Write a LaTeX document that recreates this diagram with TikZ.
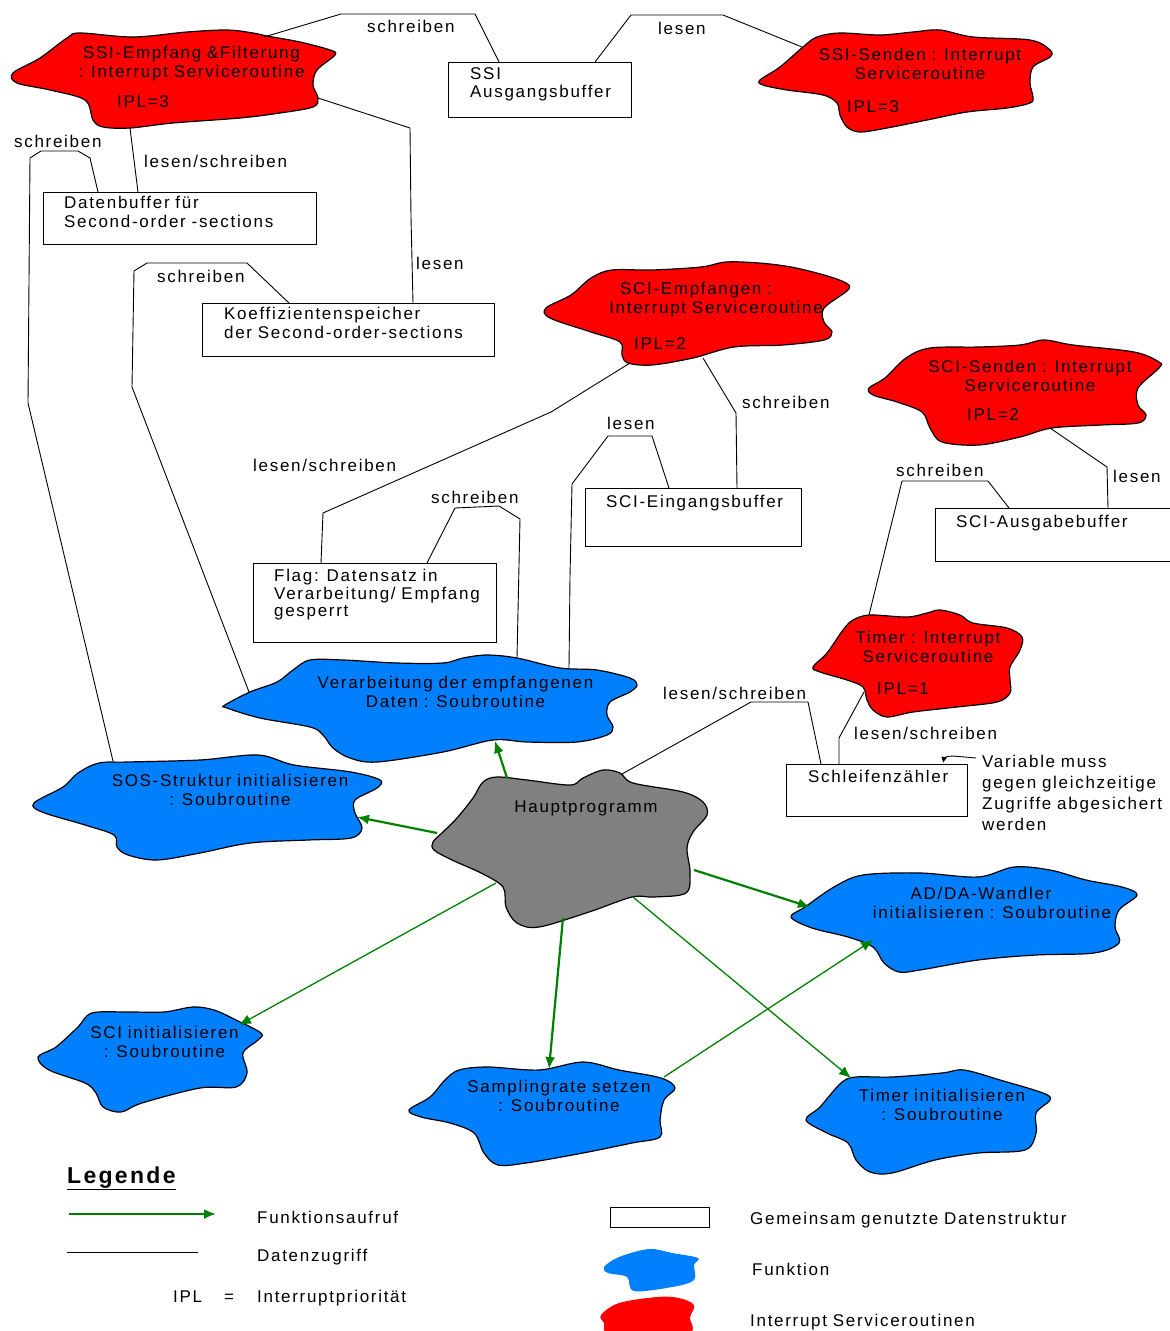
\documentclass[tikz,border=0pt]{standalone}
\usepackage{fontspec}
\setmainfont[LetterSpace=10,WordSpace=0.9]{Liberation Sans}
\usetikzlibrary{arrows.meta,calc}
\definecolor{isrred}{RGB}{255,0,0}
\definecolor{fnblue}{RGB}{0,128,255}
\definecolor{hpgray}{RGB}{128,128,128}
\definecolor{fcgreen}{RGB}{0,128,0}
\newcommand\lbfont{\fontsize{17}{18.5}\selectfont}
\newcommand\flagfont{\fontsize{17}{17.5}\selectfont}
\newcommand\notefont{\fontsize{17}{21}\selectfont}
\tikzset{
  acc/.style={draw=black, line width=0.9pt, line join=round},
  callthick/.style={draw=fcgreen, line width=2.2pt, -{Latex[length=12pt,width=10pt]}},
  callthin/.style={draw=fcgreen, line width=1.3pt, -{Latex[length=12pt,width=10pt]}},
  box/.style={draw=black, line width=1.3pt, inner sep=0pt, anchor=north west},
  lbl/.style={font=\lbfont, inner sep=0pt, anchor=base west},
  ctext/.style={font=\lbfont, inner sep=0pt, align=center, anchor=north},
  btext/.style={font=\lbfont, inner sep=0pt, align=left, anchor=north west},
  redcloud/.style={fill=isrred, draw=black, line width=1.2pt},
  bluecloud/.style={fill=fnblue, draw=black, line width=1.2pt},
  graycloud/.style={fill=hpgray, draw=black, line width=1.2pt},
}
\begin{document}
\begin{tikzpicture}[x=1pt,y=-1pt]
\useasboundingbox[fill=white] (0,0) rectangle (1170,1331);

% ---------- clouds ----------
\draw[redcloud] plot[smooth cycle, tension=0.55] coordinates {(13,73) (40,58) (67,38) (80,33) (133,37) (187,32) (227,30) (253,33) (267,36) (300,42) (330,50) (335,55) (317,70) (313,85) (318,98) (313,107) (280,113) (240,118) (173,123) (130,128) (103,127) (93,120) (85,100) (50,90) (17,83)};
\draw[redcloud] plot[smooth cycle, tension=0.55] coordinates {(760,80) (780,67) (803,47) (817,37) (840,33) (880,35) (913,32) (940,30) (973,37) (1030,40) (1050,50) (1050,57) (1033,67) (1030,83) (1033,97) (1030,103) (1007,108) (967,112) (927,120) (887,128) (860,132) (847,127) (840,115) (837,103) (823,95) (787,90) (763,85)};
\draw[redcloud] plot[smooth cycle, tension=0.55] coordinates {(546,308) (571,295) (591,278) (612,270) (652,270) (701,267) (726,262) (759,263) (791,267) (824,275) (846,283) (848,290) (824,308) (824,322) (832,332) (824,340) (783,345) (734,347) (693,358) (652,365) (628,363) (622,355) (620,342) (591,332) (550,318)};
\draw[redcloud] plot[smooth cycle, tension=0.55] coordinates {(869,388) (885,378) (906,358) (930,348) (979,347) (1020,345) (1044,340) (1073,345) (1134,352) (1159,362) (1159,368) (1138,388) (1138,405) (1146,415) (1138,423) (1101,425) (1052,428) (1020,437) (979,445) (942,442) (930,428) (922,412) (897,402) (873,395)};
\draw[redcloud] plot[smooth cycle, tension=0.55] coordinates {(813,667) (827,653) (843,630) (853,620) (870,615) (907,617) (927,613) (940,610) (960,615) (973,623) (1007,628) (1022,637) (1020,650) (1010,667) (1010,680) (1010,693) (997,702) (957,707) (913,712) (887,717) (873,710) (867,700) (863,687) (847,680) (820,672)};
\draw[bluecloud] plot[smooth cycle, tension=0.55] coordinates {(225,705) (250,692) (277,682) (293,670) (310,660) (343,660) (397,663) (443,663) (463,658) (487,655) (517,658) (560,668) (597,670) (630,678) (637,685) (630,692) (610,702) (607,715) (613,727) (607,735) (577,742) (527,742) (493,740) (443,752) (377,762) (350,758) (333,748) (323,735) (310,727) (260,718) (227,708)};
\draw[graycloud] plot[smooth cycle, tension=0.55] coordinates {(433,842) (443,832) (457,818) (473,798) (483,782) (497,777) (527,780) (570,785) (583,778) (603,770) (620,773) (633,783) (683,792) (703,802) (707,815) (693,832) (687,848) (690,872) (686,893) (654,897) (632,897) (589,912) (539,927) (517,923) (506,907) (503,887) (481,873) (452,860) (434,850)};
\draw[bluecloud] plot[smooth cycle, tension=0.55] coordinates {(34,803) (63,787) (78,773) (99,763) (128,762) (200,760) (258,755) (294,765) (351,772) (380,780) (377,788) (355,800) (355,813) (362,828) (351,838) (308,840) (250,843) (200,853) (157,860) (128,855) (117,847) (114,835) (85,825) (42,812)};
\draw[bluecloud] plot[smooth cycle, tension=0.55] coordinates {(791,917) (805,907) (834,887) (863,875) (920,873) (978,877) (1014,867) (1050,870) (1086,880) (1122,887) (1137,895) (1119,910) (1115,927) (1119,943) (1094,953) (1036,955) (978,960) (920,970) (899,972) (884,963) (873,947) (848,937) (812,928)};
\draw[bluecloud] plot[smooth cycle, tension=0.55] coordinates {(38,1057) (56,1047) (78,1027) (92,1013) (128,1012) (164,1012) (193,1007) (214,1010) (236,1020) (261,1033) (258,1040) (243,1053) (247,1073) (236,1087) (200,1088) (142,1103) (121,1112) (103,1107) (96,1093) (85,1083) (49,1070)};
\draw[bluecloud] plot[smooth cycle, tension=0.55] coordinates {(409,1110) (430,1097) (445,1080) (459,1070) (488,1067) (539,1070) (583,1062) (619,1070) (661,1078) (675,1088) (664,1100) (660,1120) (660,1137) (632,1143) (583,1153) (526,1163) (498,1165) (484,1153) (474,1133) (450,1123) (421,1117)};
\draw[bluecloud] plot[smooth cycle, tension=0.55] coordinates {(806,1120) (820,1107) (841,1083) (856,1077) (892,1077) (942,1073) (964,1070) (1000,1080) (1043,1093) (1050,1100) (1036,1113) (1036,1133) (1025,1150) (978,1153) (935,1160) (892,1173) (870,1172) (856,1160) (848,1143) (827,1133)};

% ---------- cloud texts ----------
\node[ctext] (ssiemp) at (191.5,46) {SSI-Empfang \&Filterung\\: Interrupt Serviceroutine};
\node[lbl] (ssiempipl) at (117,107) {IPL=3};
\node[ctext] (ssisend) at (920,48) {SSI-Senden : Interrupt\\Serviceroutine};
\node[lbl] (ssisendipl) at (847,112) {IPL=3};
\node[ctext] (sciemp) at (716,282) {SCI-Empfangen :\hspace*{40pt}\\Interrupt Serviceroutine};
\node[lbl] (sciempipl) at (634,349) {IPL=2};
\node[ctext] (scisend) at (1030,360) {SCI-Senden : Interrupt\\Serviceroutine};
\node[lbl] (scisendipl) at (967,420) {IPL=2};
\node[ctext] (timer) at (928,631) {Timer : Interrupt\\Serviceroutine};
\node[lbl] (timeripl) at (877,694) {IPL=1};
\node[ctext] (verarb) at (455.5,676) {Verarbeitung der empfangenen\\Daten : Soubroutine};
\node[lbl, anchor=base] (haupt) at (586,812) {Hauptprogramm};
\node[ctext] (sos) at (230,774) {SOS-Struktur initialisieren\\: Soubroutine};
\node[ctext] (adda) at (992,887) {AD/DA-Wandler\hspace*{22pt}\\initialisieren : Soubroutine};
\node[ctext] (sciinit) at (164.5,1026) {SCI initialisieren\\: Soubroutine};
\node[ctext] (sampling) at (559,1080) {Samplingrate setzen\\: Soubroutine};
\node[ctext] (timerinit) at (942,1089) {Timer initialisieren\\: Soubroutine};

% ---------- data structures ----------
\node[box, minimum width=183, minimum height=55] (ssibuf) at (448,62) {};
\node[box, minimum width=273, minimum height=52] (datbuf) at (43,192) {};
\node[box, minimum width=292, minimum height=53] (koeff) at (202,303) {};
\node[box, minimum width=243, minimum height=79] (flag) at (253,563) {};
\node[box, minimum width=216, minimum height=58] (scieb) at (585,488) {};
\node[box, minimum width=250, minimum height=53] (sciab) at (935,508) {};
\node[box, minimum width=181, minimum height=52] (schleife) at (786,764) {};

\node[btext] (ssibuft) at (470,67) {SSI\\Ausgangsbuffer};
\node[btext] (datbuft) at (64,196) {Datenbuffer für\\Second-order -sections};
\node[btext] (koefft) at (224,307) {Koeffizientenspeicher\\der Second-order-sections};
\node[btext, font=\flagfont] (flagt) at (274,569) {Flag: Datensatz in\\Verarbeitung/ Empfang\\gesperrt};
\node[lbl] (sciebt) at (606,507) {SCI-Eingangsbuffer};
\node[lbl] (sciabt) at (956,527) {SCI-Ausgabebuffer};
\node[lbl] (schleifet) at (808,782) {Schleifenzähler};
\node[btext, font=\notefont] (note) at (982,755) {Variable muss\\gegen gleichzeitige\\Zugriffe abgesichert\\werden};

% ---------- attachment points on clouds ----------
\coordinate (se-a) at (264,37);
\coordinate (se-b) at (130,128);
\coordinate (se-c) at (318,98);
\coordinate (ss-a) at (802,47);
\coordinate (sce-a) at (630,363);
\coordinate (sce-b) at (703,358);
\coordinate (scs-a) at (1050,428);
\coordinate (tim-a) at (869,615);
\coordinate (tim-b) at (864,692);
\coordinate (ver-a) at (249,692);
\coordinate (ver-b) at (517,658);
\coordinate (ver-c) at (569,668);
\coordinate (sos-a) at (113,761);
\coordinate (hp-a) at (622,774);

% ---------- data access lines ----------
\draw[acc] (se-a) -- (341,14) -- (475,14) -- ($(ssibuf.north west)+(51,0)$);
\node[lbl] (l1) at (367,32) {schreiben};
\draw[acc] ($(ssibuf.north west)+(147,0)$) -- (631,15) -- (723,15) -- (ss-a);
\node[lbl] (l2) at (658,34) {lesen};
\draw[acc] (se-b) -- ($(datbuf.north west)+(95,0)$);
\node[lbl] (l3) at (144,167) {lesen/schreiben};
\draw[acc] (sos-a) -- (28,403) -- (30,158) -- (41,151) -- (78,151) -- (90,158) -- ($(datbuf.north west)+(55,0)$);
\node[lbl] (l4) at (14,147) {schreiben};
\draw[acc] (se-c) -- (410,128) -- (411,217) -- ($(koeff.north west)+(211,0)$);
\node[lbl] (l5) at (416,269) {lesen};
\draw[acc] (ver-a) -- (132,387) -- (134,271) -- (147,263) -- (247,263) -- ($(koeff.north west)+(87,0)$);
\node[lbl] (l6) at (157,282) {schreiben};
\draw[acc] (sce-a) -- (551,412) -- (323,513) -- ($(flag.north west)+(68,0)$);
\node[lbl] (l7) at (253,471) {lesen/schreiben};
\draw[acc] (ver-b) -- (520,519) -- (499,506) -- (455,508) -- ($(flag.north west)+(174,0)$);
\node[lbl] (l8) at (431,503) {schreiben};
\draw[acc] (ver-c) -- (570,577) -- (572,484) -- (608,436) -- (652,436) -- ($(scieb.north west)+(84,0)$);
\node[lbl] (l9) at (607,429) {lesen};
\draw[acc] (sce-b) -- (736,413) -- ($(scieb.north west)+(152,0)$);
\node[lbl] (l10) at (742,408) {schreiben};
\draw[acc] (scs-a) -- (1107,467) -- ($(sciab.north west)+(173,0)$);
\node[lbl] (l11) at (1113,482) {lesen};
\draw[acc] (tim-a) -- (902,481) -- (988,481) -- ($(sciab.north west)+(74,0)$);
\node[lbl] (l12) at (896,476) {schreiben};
\draw[acc] (hp-a) -- (751,702) -- (808,702) -- ($(schleife.north west)+(35,0)$);
\node[lbl] (l13) at (663,699) {lesen/schreiben};
\draw[acc] (tim-b) -- (839,738) -- ($(schleife.north west)+(53,0)$);
\node[lbl] (l14) at (854,739) {lesen/schreiben};

% note pointer
\coordinate (note-a) at (976,758);
\coordinate (note-b) at (943,763);
\draw[line width=0.9pt, -{Latex[length=6pt,width=6pt]}] (note-a) -- (953,756) .. controls (947,756) and (944,758) .. (note-b);

% ---------- function calls ----------
\coordinate (hp-f) at (507,778);   \coordinate (ver-d) at (495,741);
\coordinate (hp-s) at (437,833);   \coordinate (sos-b) at (357,817);
\coordinate (hp-ad) at (694,870);  \coordinate (adda-a) at (810,907);
\coordinate (hp-sci) at (496,883); \coordinate (sci-a) at (239,1025);
\coordinate (hp-sr) at (563,918);  \coordinate (sr-a) at (549,1069);
\coordinate (hp-ti) at (633,897);  \coordinate (ti-a) at (851,1078);
\coordinate (sr-b) at (664,1077);  \coordinate (adda-b) at (873,940);
\draw[callthick] (hp-f) -- (ver-d);
\draw[callthick] (hp-s) -- (sos-b);
\draw[callthick] (hp-ad) -- (adda-a);
\draw[callthin] (hp-sci) -- (sci-a);
\draw[callthick] (hp-sr) -- (sr-a);
\draw[callthin] (hp-ti) -- (ti-a);
\draw[callthin] (sr-b) -- (adda-b);

% ---------- legend ----------
\node[inner sep=0pt, anchor=base west, font=\fontsize{23}{25}\selectfont\bfseries] (leg) at (67,1183) {\underline{Legende}};
\coordinate (lg-a) at (69,1214); \coordinate (lg-b) at (216,1214);
\draw[callthick] (lg-a) -- (lg-b);
\node[lbl] (lg1) at (257,1223) {Funktionsaufruf};
\coordinate (lg-c) at (67,1252); \coordinate (lg-d) at (198,1252);
\draw[acc] (lg-c) -- (lg-d);
\node[lbl] (lg2) at (257,1261) {Datenzugriff};
\node[lbl] (lg3) at (173,1302) {IPL};
\node[lbl] (lg4) at (224,1302) {=};
\node[lbl] (lg5) at (257,1302) {Interruptpriorität};
\node[box, minimum width=99, minimum height=20] (legbox) at (610,1207) {};
\node[lbl] (lg6) at (750,1224) {Gemeinsam genutzte Datenstruktur};
\fill[fnblue] plot[smooth cycle, tension=0.55] coordinates {(604,1267) (619,1257) (649,1249) (672,1253) (698,1258) (694,1265) (694,1280) (672,1287) (634,1291) (627,1277) (608,1273)};
\node[lbl] (lg7) at (752,1275) {Funktion};
\fill[isrred] plot[smooth cycle, tension=0.55] coordinates {(601,1315) (619,1303) (657,1297) (679,1298) (694,1305) (690,1317) (687,1334) (612,1335) (604,1323)};
\node[lbl] (lg8) at (750,1326) {Interrupt Serviceroutinen};
\end{tikzpicture}
\end{document}
